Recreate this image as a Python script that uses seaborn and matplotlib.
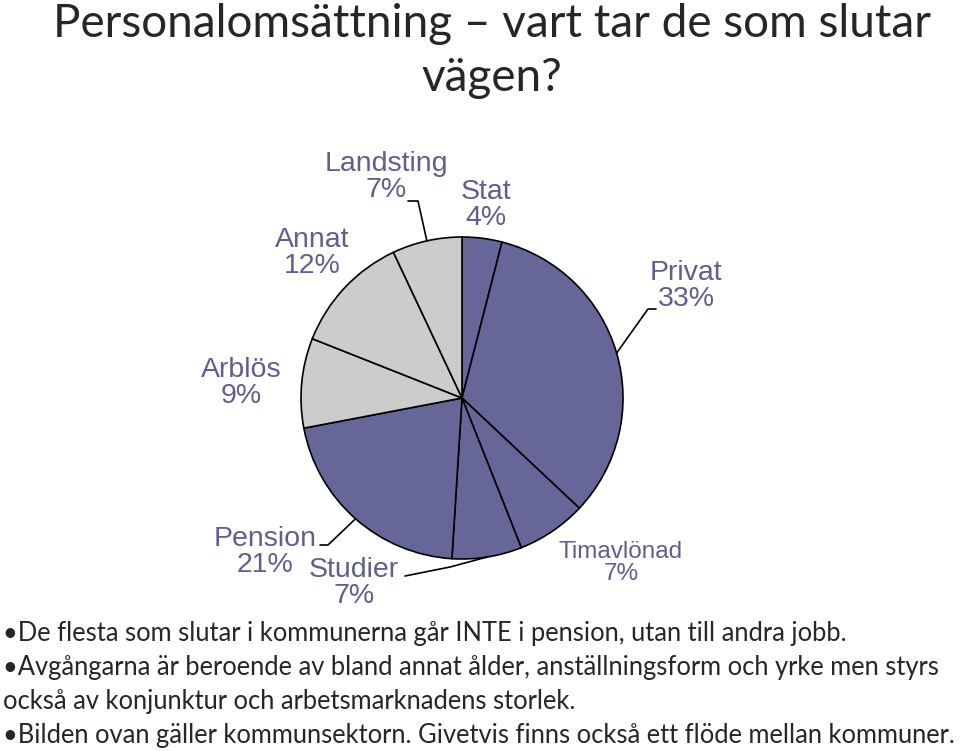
import numpy as np
import matplotlib
matplotlib.use('Agg')
import matplotlib.pyplot as plt
import seaborn as sns

# data
categories = ['Stat', 'Privat', 'Timavlönad', 'Studier', 'Pension', 'Arblös', 'Annat', 'Landsting']
shares = [4, 33, 7, 7, 21, 9, 12, 7]
is_public_side = [False, False, False, False, False, True, True, True]

title = 'Personalomsättning – vart tar de som slutar\nvägen?'
bullets = [
    '•De flesta som slutar i kommunerna går INTE i pension, utan till andra jobb.',
    '•Avgångarna är beroende av bland annat ålder, anställningsform och yrke men styrs',
    'också av konjunktur och arbetsmarknadens storlek.',
    '•Bilden ovan gäller kommunsektorn. Givetvis finns också ett flöde mellan kommuner.',
]

sns.set_theme(style='white')
plt.rcParams['font.family'] = ['Liberation Sans', 'DejaVu Sans']

W, H = 960, 751
CX, CY, R = 462, 398, 161

fig = plt.figure(figsize=(W / 100, H / 100), dpi=100)
ax = fig.add_axes([0, 0, 1, 1])


def px(x, y):
    return (x - CX) / R, (CY - y) / R


purple = '#666699'
grey = '#cccccc'
label_col = '#5f5f8f'
colors = [grey if g else purple for g in is_public_side]

wedges, _ = ax.pie(shares, colors=colors, startangle=90, counterclock=False,
                   radius=1, center=(0, 0),
                   wedgeprops=dict(edgecolor='black', linewidth=1.2))

# pie() resets the limits, so fix the pixel mapping afterwards
ax.set_xlim(-CX / R, (W - CX) / R)
ax.set_ylim((CY - H) / R, CY / R)
ax.set_aspect('equal')
ax.axis('off')

# label placement (pixel centre of text block), leader elbow
label_pos = {
    'Landsting': ((386, 177), [(418, 201), (408, 201)]),
    'Stat': ((486, 205), None),
    'Privat': ((686, 286), [(648, 309), (656, 309)]),
    'Timavlönad': ((621, 563), None),
    'Studier': ((354, 583), [(450, 567), (405, 576)]),
    'Pension': ((265, 552), [(328, 545), (320, 545)]),
    'Arblös': ((241, 383), None),
    'Annat': ((312, 253), None),
}

for w, name, val in zip(wedges, categories, shares):
    (tx, ty), elbow = label_pos[name]
    size = 17.5 if name == 'Timavlönad' else 20.5
    ax.text(*px(tx, ty), f'{name}\n{val}%', ha='center', va='center',
            fontsize=size, color=label_col, linespacing=1.0)
    if elbow:
        mid = np.deg2rad((w.theta1 + w.theta2) / 2)
        pts = [(np.cos(mid), np.sin(mid))] + [px(*p) for p in elbow]
        xs, ys = zip(*pts)
        ax.plot(xs, ys, color='black', linewidth=1.2)

fig.text(492 / W, 1 - 51 / H, title, ha='center', va='center',
         fontsize=33, family=['Lato', 'DejaVu Sans'], linespacing=1.38)

for i, line in enumerate(bullets):
    fig.text(3 / W, 1 - (634 + i * 34) / H, line, ha='left', va='center',
             fontsize=18.4, family=['Lato', 'DejaVu Sans'])

fig.savefig('out.png', dpi=100)
